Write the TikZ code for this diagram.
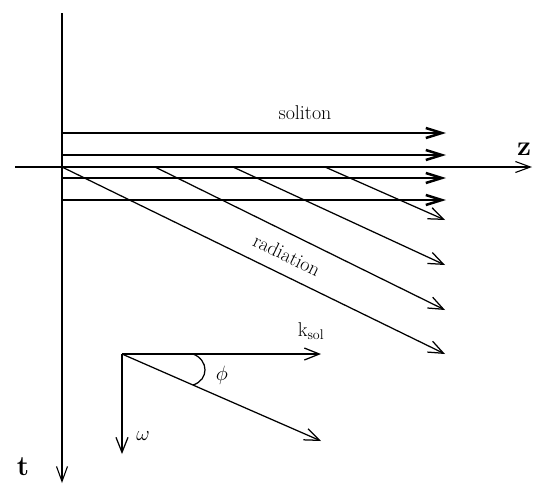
\documentclass[tikz,border=0pt]{standalone}
\usepackage{fontspec}
\usetikzlibrary{arrows.meta,calc}
\begin{document}
\begin{tikzpicture}[x=1pt,y=-1pt,
  thin arrow/.style={line width=1.25pt,-{Straight Barb[length=15pt,width=12pt,line width=1.25pt]}},
  sol arrow/.style={line width=2.5pt,-{Straight Barb[length=16pt,width=10pt,line width=2.5pt]}},
  axis/.style={line width=1.1pt,-{Straight Barb[length=15pt,width=11pt,line width=1.1pt]}},
  lbl/.style={inner sep=0pt,font=\fontsize{20}{22}\selectfont},
  axlbl/.style={inner sep=0pt,font=\fontsize{28}{30}\selectfont\bfseries}]
\useasboundingbox (0,0) rectangle (534,485);
% axes
\coordinate (tstart) at (62,13);
\coordinate (tend) at (62,483);
\coordinate (zstart) at (15,167);
\coordinate (zend) at (532,167);
\draw[axis] (tstart) -- (tend);
\draw[axis] (zstart) -- (zend);
\node[axlbl] (zl) at (524,149) {z};
\node[axlbl] (tl) at (23,467) {t};
% soliton arrows
\foreach \y [count=\i] in {133,155,178,200}{
  \coordinate (s\i) at (62,\y);
  \coordinate (e\i) at (446,\y);
  \draw[sol arrow] (s\i) -- (e\i);
}
\node[lbl] (soliton) at (305,113) {soliton};
% radiation arrows
\foreach \x/\y [count=\i] in {62/354,155/310,233/265,325/220}{
  \coordinate (r\i) at (\x,167);
  \coordinate (q\i) at (445,\y);
  \draw[thin arrow] (r\i) -- (q\i);
}
\node[lbl,rotate=-26] (rad) at (287,255) {radiation};
% lower diagram
\coordinate (o) at (122,354);
\coordinate (k) at (321,354);
\coordinate (d) at (321,441);
\coordinate (w) at (122,454);
\coordinate (arcA) at (193,354);
\coordinate (arcB) at (193,385);
\draw[thin arrow] (o) -- (k);
\draw[thin arrow] (o) -- (d);
\draw[thin arrow] (o) -- (w);
\draw[line width=1.25pt] (arcA) .. controls (209,360) and (209,380) .. (arcB);
\node[lbl] (ksol) at (311,331) {k$_{\mathrm{sol}}$};
\node[lbl] (phi) at (222,375) {$\phi$};
\node[lbl] (omega) at (143,436) {$\omega$};
\end{tikzpicture}
\end{document}
